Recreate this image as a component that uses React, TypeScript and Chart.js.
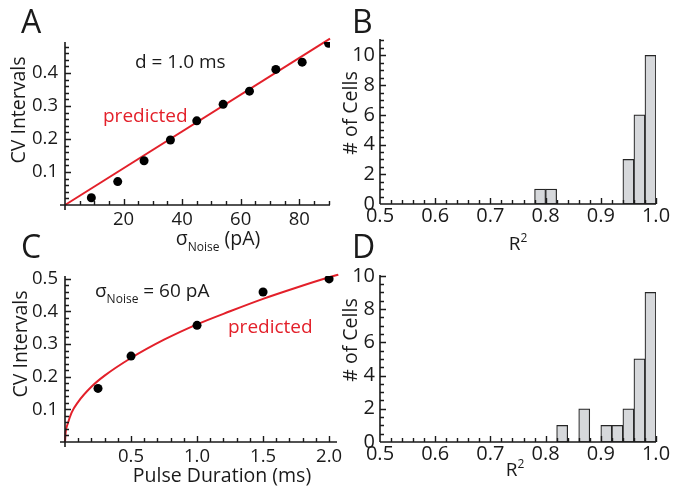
import React, { useEffect, useRef } from 'react';
import { Chart, registerables } from 'chart.js';

Chart.register(...registerables);

const W = 674;
const H = 486;
const XH = 40;
const FONT = '"Open Sans", "DejaVu Sans", sans-serif';
const RED = '#e3202a';
const INK = '#1a1a1a';

// ---------- Panel A : CV vs sigma noise ----------
const aNoisePA = [9, 18, 27, 36, 45, 54, 63, 72, 81, 90];
const aCV = [0.022, 0.071, 0.134, 0.197, 0.255, 0.305, 0.345, 0.411, 0.433, 0.49];
const aPredNoise = [0, 90.5];
const aPredCV = [0, 0.504];
const aXTicks = [20, 40, 60, 80];
const aYTicks = [0.1, 0.2, 0.3, 0.4];

// ---------- Panel B : R^2 histogram ----------
const bBinStart = [0.78, 0.8, 0.94, 0.96, 0.98];
const bCells = [1, 1, 3, 6, 10];

// ---------- Panel C : CV vs pulse duration ----------
const cDurMs = [0.25, 0.5, 1.0, 1.5, 2.0];
const cCV = [0.164, 0.263, 0.357, 0.459, 0.499];
const cPredDur = [0, 0.005, 0.02, 0.05, 0.1, 0.2, 0.3, 0.5, 0.75, 1.0, 1.25, 1.5, 1.75, 2.0, 2.07];
const cPredCV = [0, 0.03, 0.055, 0.09, 0.123, 0.169, 0.203, 0.257, 0.313, 0.36, 0.4, 0.438, 0.472, 0.504, 0.512];
const cXTicks = [0.5, 1.0, 1.5, 2.0];
const cYTicks = [0.1, 0.2, 0.3, 0.4, 0.5];

// ---------- Panel D : R^2 histogram ----------
const dBinStart = [0.82, 0.86, 0.9, 0.92, 0.94, 0.96, 0.98];
const dCells = [1, 2, 1, 1, 2, 5, 9];

const BIN_W = 0.02;
const r2Ticks = [0.5, 0.6, 0.7, 0.8, 0.9, 1.0];
const cellTicks = [0, 2, 4, 6, 8, 10];

type Run = { t: string; size: number; dy?: number };
type TextItem = { runs: Run[]; x: number; y: number; align?: 'left' | 'center'; rotate?: boolean; color?: string };

const textPlugin = {
  id: 'figText',
  afterDraw(chart: any, _a: any, opts: any) {
    const ctx = chart.ctx;
    const items: TextItem[] = opts.items || [];
    for (const it of items) {
      ctx.save();
      ctx.fillStyle = it.color || INK;
      ctx.textBaseline = 'alphabetic';
      ctx.textAlign = 'left';
      let total = 0;
      for (const r of it.runs) {
        ctx.font = `${r.size}px ${FONT}`;
        total += ctx.measureText(r.t).width;
      }
      ctx.translate(it.x, it.y);
      if (it.rotate) ctx.rotate(-Math.PI / 2);
      let cx = it.align === 'center' ? -total / 2 : 0;
      for (const r of it.runs) {
        ctx.font = `${r.size}px ${FONT}`;
        ctx.fillText(r.t, cx, r.dy || 0);
        cx += ctx.measureText(r.t).width;
      }
      ctx.restore();
    }
  },
};

const axisPlugin = {
  id: 'figAxes',
  afterDatasetsDraw(chart: any, _a: any, opts: any) {
    const { ctx, chartArea: ca } = chart;
    const xs = chart.scales.x;
    const ys = chart.scales.y;
    ctx.save();
    ctx.strokeStyle = INK;
    ctx.lineWidth = 1.6;
    ctx.beginPath();
    ctx.moveTo(ca.left - opts.ext, ca.bottom);
    ctx.lineTo(ca.right, ca.bottom);
    ctx.moveTo(ca.left, ca.bottom + opts.ext);
    ctx.lineTo(ca.left, ca.top);
    ctx.stroke();
    ctx.lineWidth = 1.4;
    ctx.beginPath();
    const isMajor = (v: number, majors: number[]) => majors.some((m) => Math.abs(m - v) < 1e-6);
    const nx = Math.floor((xs.max - xs.min) / opts.xMinor + 1e-6);
    for (let i = 1; i <= nx; i++) {
      const v = xs.min + i * opts.xMinor;
      const px = Math.round(xs.getPixelForValue(v)) + 0.5;
      const len = isMajor(v, opts.xMajor) ? 6 : 4;
      ctx.moveTo(px, ca.bottom);
      ctx.lineTo(px, ca.bottom - len);
    }
    const ny = Math.floor((ys.max - ys.min) / opts.yMinor + 1e-6);
    for (let i = 1; i <= ny; i++) {
      const v = ys.min + i * opts.yMinor;
      const py = Math.round(ys.getPixelForValue(v)) + 0.5;
      const len = isMajor(v, opts.yMajor) ? 6 : 4;
      ctx.moveTo(ca.left, py);
      ctx.lineTo(ca.left + len, py);
    }
    ctx.stroke();
    ctx.restore();
  },
};

type Geo = { left: number; right: number; top: number; bottom: number };
type AxisCfg = { min: number; max: number; ticks: number[]; fs: number; pad: number; fmt: (v: number) => string };

function makeOptions(g: Geo, xc: AxisCfg, yc: AxisCfg, axes: any, texts: TextItem[]) {
  return {
    responsive: false,
    animation: false,
    devicePixelRatio: 1,
    events: [],
    layout: {
      autoPadding: false,
      padding: { left: 0, top: g.top, right: W - g.right, bottom: H - g.bottom - XH },
    },
    plugins: {
      legend: { display: false },
      tooltip: { enabled: false },
      figAxes: axes,
      figText: { items: texts },
    },
    scales: {
      x: {
        type: 'linear',
        offset: false,
        min: xc.min,
        max: xc.max,
        grid: { display: false, drawTicks: false },
        border: { display: false },
        ticks: {
          font: { family: FONT, size: xc.fs },
          color: INK,
          padding: xc.pad,
          maxRotation: 0,
          autoSkip: false,
          callback: (v: any) => xc.fmt(Number(v)),
        },
        afterBuildTicks: (s: any) => {
          s.ticks = xc.ticks.map((v) => ({ value: v }));
        },
        afterFit: (s: any) => {
          s.height = XH;
          s.paddingLeft = 0;
          s.paddingRight = 0;
        },
      },
      y: {
        type: 'linear',
        offset: false,
        min: yc.min,
        max: yc.max,
        grid: { display: false, drawTicks: false },
        border: { display: false },
        ticks: {
          font: { family: FONT, size: yc.fs },
          color: INK,
          padding: yc.pad,
          autoSkip: false,
          callback: (v: any) => yc.fmt(Number(v)),
        },
        afterBuildTicks: (s: any) => {
          s.ticks = yc.ticks.map((v) => ({ value: v }));
        },
        afterFit: (s: any) => {
          s.width = g.left;
          s.paddingTop = 0;
          s.paddingBottom = 0;
        },
      },
    },
  };
}

const f1 = (v: number) => v.toFixed(1);
const f0 = (v: number) => String(Math.round(v));

function pts(xs: number[], ys: number[]) {
  return xs.map((x, i) => ({ x, y: ys[i] }));
}

function histData(starts: number[], counts: number[]) {
  return starts.map((s, i) => ({ x: s + BIN_W / 2, y: counts[i] }));
}

function makeA(canvas: HTMLCanvasElement) {
  const g = { left: 65, right: 330, top: 42, bottom: 205 };
  const texts: TextItem[] = [
    { runs: [{ t: 'A', size: 32 }], x: 21, y: 33 },
    { runs: [{ t: 'CV Intervals', size: 19.5 }], x: 25, y: 110, align: 'center', rotate: true },
    { runs: [{ t: 'σ', size: 19.5 }, { t: 'Noise', size: 12, dy: 6 }, { t: ' (pA)', size: 19.5 }], x: 218, y: 245, align: 'center' },
    { runs: [{ t: 'd = 1.0 ms', size: 19 }], x: 135, y: 68 },
    { runs: [{ t: 'predicted', size: 19 }], x: 103, y: 122, color: RED },
  ];
  return new Chart(canvas, {
    type: 'scatter',
    data: {
      datasets: [
        { data: pts(aNoisePA, aCV), pointRadius: 4.5, pointBackgroundColor: '#000', pointBorderWidth: 0, showLine: false },
        { data: pts(aPredNoise, aPredCV), showLine: true, borderColor: RED, borderWidth: 2, pointRadius: 0, fill: false, clip: false },
      ],
    } as any,
    options: makeOptions(
      g,
      { min: 0, max: 90.5, ticks: aXTicks, fs: 18.5, pad: 4, fmt: f0 },
      { min: 0, max: 0.494, ticks: aYTicks, fs: 18.5, pad: 7, fmt: f1 },
      { ext: 5, xMinor: 5, xMajor: aXTicks, yMinor: 0.02, yMajor: aYTicks },
      texts
    ) as any,
    plugins: [axisPlugin, textPlugin],
  });
}

function makeHist(canvas: HTMLCanvasElement, g: Geo, starts: number[], counts: number[], yMax: number, texts: TextItem[], xPad: number) {
  return new Chart(canvas, {
    type: 'bar',
    data: {
      datasets: [
        {
          data: histData(starts, counts),
          backgroundColor: '#d6d8db',
          borderColor: '#262626',
          borderWidth: 1.2,
          borderSkipped: false,
          barPercentage: 1,
          categoryPercentage: 1,
        },
      ],
    } as any,
    options: makeOptions(
      g,
      { min: 0.5, max: 1.0, ticks: r2Ticks, fs: 20, pad: xPad, fmt: f1 },
      { min: 0, max: yMax, ticks: cellTicks, fs: 20, pad: 5, fmt: f0 },
      { ext: 0, xMinor: 0.02, xMajor: r2Ticks, yMinor: 0.5, yMajor: cellTicks },
      texts
    ) as any,
    plugins: [axisPlugin, textPlugin],
  });
}

function makeC(canvas: HTMLCanvasElement) {
  const g = { left: 65, right: 337, top: 276, bottom: 442 };
  const texts: TextItem[] = [
    { runs: [{ t: 'C', size: 32 }], x: 21, y: 258 },
    { runs: [{ t: 'CV Intervals', size: 19.5 }], x: 27, y: 344, align: 'center', rotate: true },
    { runs: [{ t: 'Pulse Duration (ms)', size: 19.5 }], x: 222, y: 482, align: 'center' },
    { runs: [{ t: 'σ', size: 19 }, { t: 'Noise', size: 12, dy: 6 }, { t: ' = 60 pA', size: 19 }], x: 95, y: 297 },
    { runs: [{ t: 'predicted', size: 19 }], x: 228, y: 333, color: RED },
  ];
  return new Chart(canvas, {
    type: 'scatter',
    data: {
      datasets: [
        { data: pts(cDurMs, cCV), pointRadius: 4.5, pointBackgroundColor: '#000', pointBorderWidth: 0, showLine: false },
        {
          type: 'line',
          data: pts(cPredDur, cPredCV),
          borderColor: RED,
          borderWidth: 2,
          pointRadius: 0,
          fill: false,
          clip: false,
          cubicInterpolationMode: 'monotone',
        },
      ],
    } as any,
    options: makeOptions(
      g,
      { min: 0, max: 2.06, ticks: cXTicks, fs: 18.5, pad: 4, fmt: f1 },
      { min: 0, max: 0.508, ticks: cYTicks, fs: 18.5, pad: 7, fmt: f1 },
      { ext: 5, xMinor: 0.1, xMajor: cXTicks, yMinor: 0.02, yMajor: cYTicks },
      texts
    ) as any,
    plugins: [axisPlugin, textPlugin],
  });
}

export default function App() {
  const rA = useRef<HTMLCanvasElement>(null);
  const rB = useRef<HTMLCanvasElement>(null);
  const rC = useRef<HTMLCanvasElement>(null);
  const rD = useRef<HTMLCanvasElement>(null);

  useEffect(() => {
    const charts: Chart[] = [];
    charts.push(makeA(rA.current!));
    charts.push(
      makeHist(
        rB.current!,
        { left: 380, right: 656, top: 39, bottom: 204 },
        bBinStart,
        bCells,
        11.1,
        [
          { runs: [{ t: 'B', size: 32 }], x: 352, y: 33 },
          { runs: [{ t: '# of Cells', size: 19.5 }], x: 357, y: 113, align: 'center', rotate: true },
          { runs: [{ t: 'R', size: 19 }, { t: '2', size: 12, dy: -8 }], x: 518, y: 250, align: 'center' },
        ],
        0
      )
    );
    charts.push(makeC(rC.current!));
    charts.push(
      makeHist(
        rD.current!,
        { left: 380, right: 656, top: 275, bottom: 442 },
        dBinStart,
        dCells,
        10.05,
        [
          { runs: [{ t: 'D', size: 32 }], x: 352, y: 258 },
          { runs: [{ t: '# of Cells', size: 19.5 }], x: 357, y: 340, align: 'center', rotate: true },
          { runs: [{ t: 'R', size: 19 }, { t: '2', size: 12, dy: -8 }], x: 515, y: 476, align: 'center' },
        ],
        0
      )
    );
    return () => charts.forEach((c) => c.destroy());
  }, []);

  const cs: React.CSSProperties = { position: 'absolute', left: 0, top: 0, width: W, height: H };
  return (
    <div style={{ position: 'fixed', left: 0, top: 0, width: W, height: H, background: '#fff' }}>
      <canvas ref={rA} width={W} height={H} style={cs} />
      <canvas ref={rB} width={W} height={H} style={cs} />
      <canvas ref={rC} width={W} height={H} style={cs} />
      <canvas ref={rD} width={W} height={H} style={cs} />
    </div>
  );
}
